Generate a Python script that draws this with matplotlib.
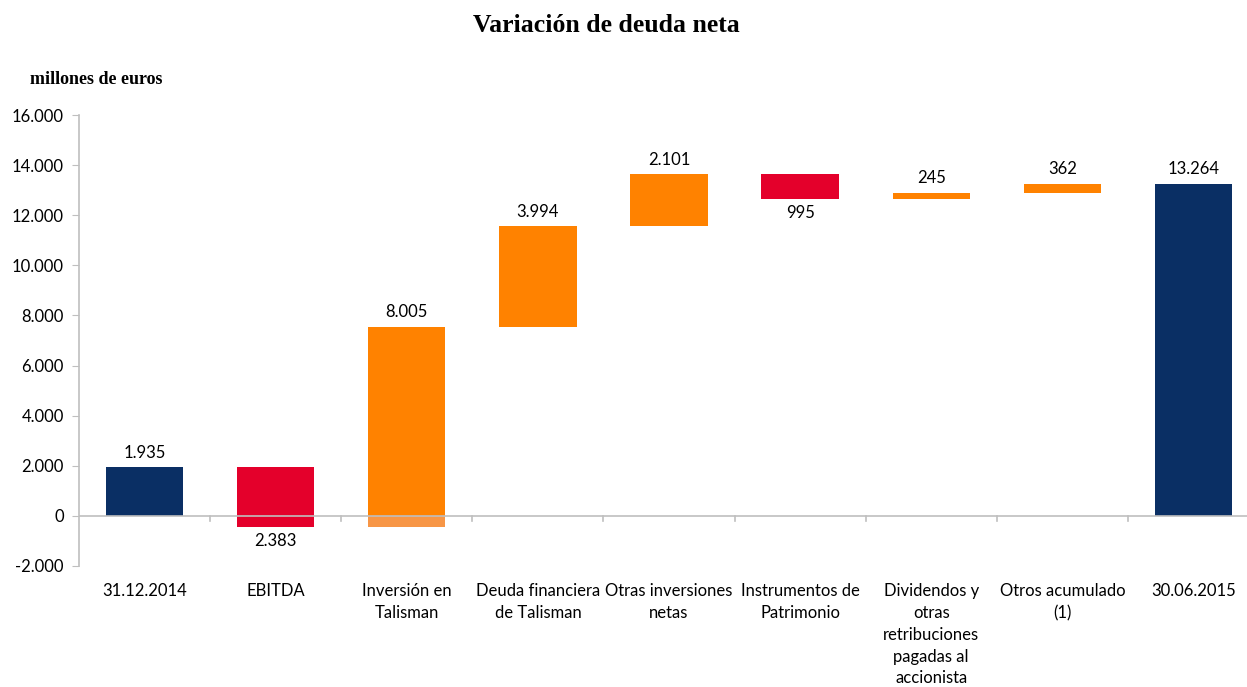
import matplotlib.pyplot as plt
from matplotlib.ticker import FuncFormatter

categories = ["31.12.2014", "EBITDA", "Inversión en\nTalisman", "Deuda financiera\nde Talisman",
              "Otras inversiones\nnetas", "Instrumentos de\nPatrimonio",
              "Dividendos y\notras\nretribuciones\npagadas al\naccionista",
              "Otros acumulado\n(1)", "30.06.2015"]
changes = [1935, -2383, 8005, 3994, 2101, -995, 245, 362, 13264]
kinds = ["total", "down", "up", "up", "up", "down", "up", "up", "total"]

NAVY = "#0a2f64"
RED = "#e4002b"
ORANGE = "#ff8200"
LIGHT_ORANGE = "#f79646"

def fmt(v):
    return f"{abs(v):,.0f}".replace(",", ".")

fig = plt.figure(figsize=(12.47, 6.87), dpi=100)
ax = fig.add_axes([79 / 1247, 1 - 566 / 687, 1180 / 1247, 451 / 687])

label_font = "Lato"
fs = 12
level = 0
for i, (v, k) in enumerate(zip(changes, kinds)):
    if k == "total":
        bottom, top = 0, v
        level = v
        color = NAVY
    else:
        start = level
        level = level + v
        bottom, top = min(start, level), max(start, level)
        color = RED if k == "down" else ORANGE
    if k == "up" and bottom < 0:
        ax.bar(i, top, bottom=0, width=0.59, color=color, zorder=2)
        ax.bar(i, -bottom, bottom=bottom, width=0.59, color=LIGHT_ORANGE, zorder=2)
    else:
        ax.bar(i, top - bottom, bottom=bottom, width=0.59, color=color, zorder=2)
    if k == "down":
        ax.text(i, bottom - 250, fmt(v), ha="center", va="top", fontsize=fs, family=label_font)
    else:
        ax.text(i, top + 250, fmt(v), ha="center", va="bottom", fontsize=fs, family=label_font)

ax.set_xlim(-0.5, len(categories) - 0.5)
ax.set_ylim(-2000, 16000)
ax.set_yticks(range(-2000, 16001, 2000))
ax.yaxis.set_major_formatter(FuncFormatter(lambda y, p: ("-" if y < 0 else "") + fmt(y)))
ax.axhline(0, color="#bfbfbf", lw=1.2, zorder=3)
for b in range(1, len(categories)):
    ax.plot([b - 0.5, b - 0.5], [0, -200], color="#bfbfbf", lw=1.2, zorder=3, clip_on=False)

ax.set_xticks(range(len(categories)))
ax.set_xticklabels([])
for i, c in enumerate(categories):
    ax.text(i, -2680, c, ha="center", va="top", fontsize=fs, family=label_font, linespacing=1.45)

for s in ["top", "right", "bottom"]:
    ax.spines[s].set_visible(False)
ax.spines["left"].set_color("#bfbfbf")
ax.spines["left"].set_linewidth(1.2)
ax.tick_params(axis="y", length=5, color="#bfbfbf", labelsize=fs, pad=6)
ax.tick_params(axis="x", length=0)
for t in ax.get_yticklabels():
    t.set_family(label_font)

fig.text(0.486, 1 - 26 / 687, "Variación de deuda neta", ha="center", va="center",
         fontsize=18.5, fontweight="bold", family="Liberation Serif")
fig.text(30 / 1247, 1 - 79 / 687, "millones de euros", ha="left", va="center",
         fontsize=13, fontweight="bold", family="Liberation Serif")

fig.savefig("out.png", dpi=100)
